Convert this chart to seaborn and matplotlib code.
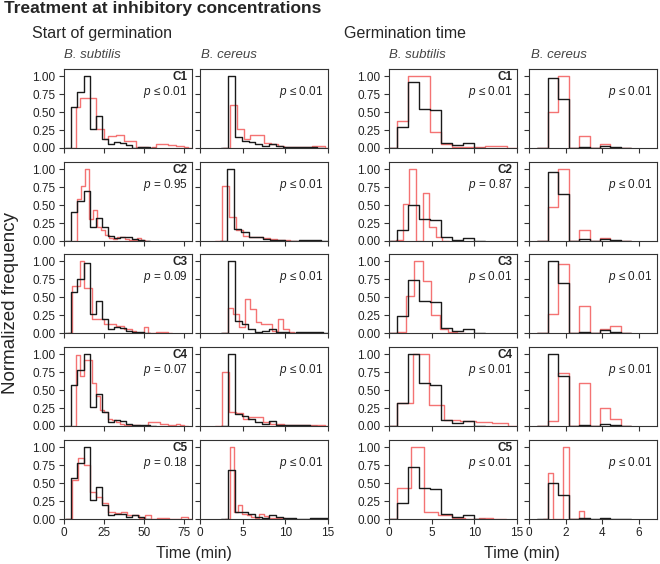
import matplotlib.pyplot as plt
import numpy as np
import pandas as pd
import seaborn as sns

conditions = ["C1", "C2", "C3", "C4", "C5"]

# p-values printed in each panel
p_start_bs = ["≤ 0.01", "= 0.95", "= 0.09", "= 0.07", "= 0.18"]
p_start_bc = ["≤ 0.01", "≤ 0.01", "≤ 0.01", "≤ 0.01", "≤ 0.01"]
p_germ_bs = ["≤ 0.01", "= 0.87", "≤ 0.01", "≤ 0.01", "≤ 0.01"]
p_germ_bc = ["≤ 0.01", "≤ 0.01", "≤ 0.01", "≤ 0.01", "≤ 0.01"]

# Start of germination, B. subtilis  (first bin edge, bin width, normalized heights)
start_bs_black_x0 = [4.6, 4.6, 4.6, 4.6, 4.6]
start_bs_black_w = [3.8, 3.8, 3.8, 3.8, 3.8]
start_bs_black = [
    [0.57, 0.78, 1.0, 0.27, 0.45, 0.12, 0.05, 0.08, 0.07, 0.04, 0.0, 0.02, 0.02],
    [0.4, 0.55, 0.7, 0.2, 0.32, 0.2, 0.07, 0.04, 0.05, 0.05, 0.03, 0.02],
    [0.57, 0.75, 0.97, 0.27, 0.44, 0.2, 0.05, 0.08, 0.07, 0.03, 0.02, 0.01],
    [0.57, 0.78, 1.0, 0.27, 0.45, 0.2, 0.05, 0.08, 0.07, 0.03, 0.02, 0.01, 0.01],
    [0.57, 0.78, 1.0, 0.27, 0.45, 0.2, 0.05, 0.07, 0.07, 0.03, 0.05, 0.03],
]
start_bs_red_x0 = [7.3, 7.9, 4.8, 7.3, 5.0]
start_bs_red_w = [2.5, 2.5, 2.5, 2.5, 3.8]
start_bs_red = [
    [0.57, 0.69, 0.69, 0.69, 0.69, 0.27, 0.27, 0.13, 0.17, 0.17, 0.18, 0.18, 0.1, 0.1,
     0.1, 0.02, 0.02, 0.02, 0.0, 0.02, 0.05, 0.05, 0.05, 0.04, 0.04, 0.03, 0.03, 0.02],
    [0.58, 0.76, 1.0, 0.3, 0.43, 0.2, 0.15, 0.08, 0.04, 0.03, 0.05, 0.05, 0.03, 0.02,
     0.02, 0.04, 0.02],
    [0.65, 0.65, 1.0, 0.62, 0.62, 0.2, 0.2, 0.2, 0.12, 0.12, 0.12, 0.1, 0.1, 0.05,
     0.05, 0.03, 0.0, 0.0, 0.08, 0.0, 0.0, 0.02, 0.02, 0.02],
    [0.99, 0.7, 0.92, 0.92, 0.6, 0.42, 0.22, 0.2, 0.1, 0.08, 0.05, 0.03, 0.02, 0.01,
     0.01, 0.01, 0.0, 0.0, 0.05, 0.05, 0.05, 0.03, 0.03, 0.02, 0.02, 0.03, 0.02],
    [0.55, 0.85, 0.75, 0.38, 0.3, 0.22, 0.1, 0.08, 0.1, 0.05, 0.05, 0.02, 0.05, 0.0,
     0.02, 0.01, 0.0, 0.0, 0.03],
]

# Start of germination, B. cereus
start_bc_black_x0 = [3.3, 3.15, 3.27, 3.27, 3.27]
start_bc_black_w = [0.8, 0.85, 0.8, 0.8, 0.8]
start_bc_black = [
    [1.0, 0.15, 0.1, 0.08, 0.05, 0.03, 0.05, 0.03, 0.02, 0.01, 0.01, 0.01, 0.01],
    [1.0, 0.17, 0.13, 0.06, 0.05, 0.03, 0.02, 0.02, 0.0, 0.0, 0.01, 0.01, 0.01],
    [1.0, 0.17, 0.13, 0.06, 0.02, 0.03, 0.06, 0.02, 0.02, 0.0, 0.01, 0.01, 0.01, 0.01],
    [1.0, 0.17, 0.14, 0.1, 0.05, 0.03, 0.07, 0.02, 0.02, 0.01, 0.01, 0.01],
    [0.68, 0.1, 0.1, 0.07, 0.03, 0.02, 0.06, 0.03, 0.01, 0.01, 0.0, 0.0, 0.01, 0.01, 0.01],
]
start_bc_red_x0 = [3.5, 2.6, 3.27, 2.6, 3.46]
start_bc_red_w = [0.8, 0.8, 0.65, 0.8, 0.5]
start_bc_red = [
    [0.6, 0.27, 0.13, 0.18, 0.18, 0.07, 0.05, 0.03, 0.02, 0.02, 0.02, 0.02, 0.03, 0.03],
    [0.77, 0.33, 0.15, 0.07, 0.06, 0.05, 0.04, 0.03, 0.02, 0.01],
    [0.35, 0.27, 0.08, 0.47, 0.33, 0.15, 0.12, 0.12, 0.03, 0.2, 0.06, 0.01],
    [0.75, 0.2, 0.18, 0.1, 0.13, 0.12, 0.06, 0.03, 0.03, 0.02, 0.01, 0.01, 0.01, 0.01, 0.01],
    [1.0, 0.1, 0.2, 0.07, 0.05, 0.03, 0.02, 0.07, 0.04, 0.02, 0.02, 0.01, 0.01],
]

# Germination time, B. subtilis
germ_bs_black_x0 = [0.94, 0.94, 0.94, 0.94, 0.94]
germ_bs_black_w = [1.29, 1.29, 1.29, 1.29, 1.29]
germ_bs_black = [
    [0.29, 0.92, 0.55, 0.53, 0.07, 0.04, 0.07],
    [0.16, 0.5, 0.3, 0.29, 0.05, 0.02, 0.04],
    [0.23, 0.74, 0.44, 0.43, 0.07, 0.03, 0.05],
    [0.32, 1.0, 0.6, 0.57, 0.09, 0.04, 0.07],
    [0.22, 0.72, 0.43, 0.42, 0.07, 0.03, 0.05],
]
germ_bs_red_x0 = [0.94, 0.86, 0.94, 0.94, 0.94]
germ_bs_red_w = [1.29, 0.77, 1.0, 1.85, 1.6]
germ_bs_red = [
    [0.38, 1.0, 1.0, 0.22, 0.05, 0.02, 0.01, 0.01, 0.03, 0.03],
    [0.02, 0.51, 1.0, 0.0, 0.67, 0.2, 0.05],
    [0.02, 0.51, 1.0, 0.73, 0.25, 0.05, 0.02],
    [0.32, 1.0, 0.29, 0.09, 0.07, 0.05, 0.04],
    [0.43, 1.0, 0.1, 0.06, 0.02, 0.0, 0.01],
]

# Germination time, B. cereus
germ_bc_black_x0 = [1.03, 1.03, 1.03, 1.03, 1.03]
germ_bc_black_w = [0.57, 0.57, 0.57, 0.57, 0.57]
germ_bc_black = [
    [0.98, 0.68, 0.0, 0.02, 0.0, 0.03, 0.01],
    [0.96, 0.66, 0.0, 0.03, 0.0, 0.03, 0.01],
    [1.0, 0.69, 0.0, 0.02, 0.0, 0.04, 0.01],
    [1.0, 0.69, 0.0, 0.02, 0.0, 0.03, 0.01],
    [0.5, 0.34, 0.0, 0.01, 0.0, 0.015, 0.005],
]
germ_bc_red_x0 = [1.03, 1.03, 1.03, 1.03, 1.03]
germ_bc_red_w = [0.57, 0.57, 0.57, 0.57, 0.285]
germ_bc_red = [
    [0.5, 1.0, 0.0, 0.17, 0.0, 0.05, 0.0],
    [0.48, 1.0, 0.0, 0.16, 0.0, 0.04, 0.0],
    [0.26, 0.96, 0.0, 0.38, 0.0, 0.06, 0.1],
    [0.07, 0.74, 0.0, 0.6, 0.0, 0.25, 0.1],
    [0.64, 0.0, 0.0, 1.0, 0.0, 0.0, 0.11],
]

sns.set_style("ticks")
plt.rcParams["font.family"] = ["Liberation Sans", "DejaVu Sans"]
plt.rcParams["mathtext.fontset"] = "custom"
plt.rcParams["mathtext.it"] = "Liberation Sans:italic"
plt.rcParams["mathtext.rm"] = "Liberation Sans"

W, H = 660, 564
fig = plt.figure(figsize=(W / 100, H / 100), dpi=100)


def fx(px):
    return px / W


def fy(py):
    return 1 - py / H


def draw_hist(ax, x0, w, heights, color, alpha):
    h = np.concatenate([[0.0], heights, [0.0]])
    edges = x0 + w * np.arange(-1, len(h))
    df = pd.DataFrame({"t": edges[:-1] + w / 2, "h": h})
    sns.histplot(data=df, x="t", weights="h", bins=edges.tolist(), element="step",
                 fill=False, color=color, linewidth=1.0, alpha=alpha, ax=ax)


columns = [
    dict(left=64, xlim=(0, 80), xticks=[0, 25, 50, 75], labels=True, p=p_start_bs,
         black=(start_bs_black_x0, start_bs_black_w, start_bs_black),
         red=(start_bs_red_x0, start_bs_red_w, start_bs_red)),
    dict(left=200, xlim=(0, 15), xticks=[0, 5, 10, 15], labels=False, p=p_start_bc,
         black=(start_bc_black_x0, start_bc_black_w, start_bc_black),
         red=(start_bc_red_x0, start_bc_red_w, start_bc_red)),
    dict(left=389, xlim=(0, 15), xticks=[0, 5, 10, 15], labels=True, p=p_germ_bs,
         black=(germ_bs_black_x0, germ_bs_black_w, germ_bs_black),
         red=(germ_bs_red_x0, germ_bs_red_w, germ_bs_red)),
    dict(left=529, xlim=(0, 7), xticks=[0, 2, 4, 6], labels=False, p=p_germ_bc,
         black=(germ_bc_black_x0, germ_bc_black_w, germ_bc_black),
         red=(germ_bc_red_x0, germ_bc_red_w, germ_bc_red)),
]
row_tops = [69, 162, 254, 347, 440]
ax_w, ax_h = 128, 79

for r, top in enumerate(row_tops):
    for col in columns:
        ax = fig.add_axes([fx(col["left"]), fy(top + ax_h), ax_w / W, ax_h / H])
        rx0, rw, rh = col["red"]
        bx0, bw, bh = col["black"]
        draw_hist(ax, rx0[r], rw[r], rh[r], "#f25050", 0.8)
        draw_hist(ax, bx0[r], bw[r], bh[r], "#1a1a1a", 1.0)
        ax.set_xlim(*col["xlim"])
        ax.set_ylim(0, 1.1)
        ax.set_xticks(col["xticks"])
        ax.set_yticks([0, 0.25, 0.5, 0.75, 1.0])
        ax.set_xlabel("")
        ax.set_ylabel("")
        if col["labels"]:
            ax.set_yticklabels(["0.00", "0.25", "0.50", "0.75", "1.00"])
        else:
            ax.set_yticklabels([])
        if r < 4:
            ax.set_xticklabels([])
        ax.tick_params(direction="out", length=3.6, width=0.8, pad=2.5,
                       labelsize=8.5, color="#333333", labelcolor="#222222")
        for s in ax.spines.values():
            s.set_linewidth(0.8)
            s.set_color("#333333")
        if col["labels"]:
            ax.text(0.965, 0.9, conditions[r], transform=ax.transAxes, ha="right",
                    va="center", fontsize=8.5, fontweight="bold", color="#222222")
        ax.text(0.965, 0.715, "$p$ " + col["p"][r], transform=ax.transAxes,
                ha="right", va="center", fontsize=8.5, color="#222222")

fig.text(fx(4), fy(1), "Treatment at inhibitory concentrations", ha="left",
         va="top", fontsize=12.5, fontweight="bold")
fig.text(fx(32), fy(26), "Start of germination", ha="left", va="top", fontsize=11.5)
fig.text(fx(344), fy(26), "Germination time", ha="left", va="top", fontsize=11.5)
for x, name in [(64, "B. subtilis"), (201, "B. cereus"),
                (389, "B. subtilis"), (531, "B. cereus")]:
    fig.text(fx(x), fy(49), name, ha="left", va="top", fontsize=9.5,
             style="italic", color="#444444")
fig.text(fx(194), fy(546), "Time (min)", ha="center", va="top", fontsize=11.5)
fig.text(fx(522), fy(546), "Time (min)", ha="center", va="top", fontsize=11.5)
fig.text(fx(11), fy(303), "Normalized frequency", ha="center", va="center",
         rotation=90, fontsize=13.5)

fig.savefig("out.png", dpi=100)
